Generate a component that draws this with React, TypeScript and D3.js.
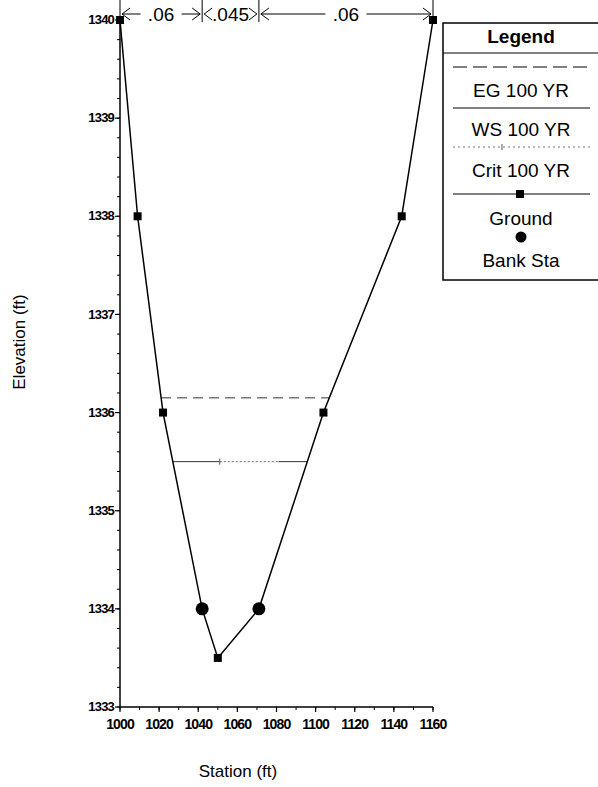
import React from "react";
import * as d3 from "d3";

const groundStation = [1000, 1009, 1022, 1042, 1050, 1071, 1104, 1144, 1160];
const groundElev = [1340, 1338, 1336, 1334, 1333.5, 1334, 1336, 1338, 1340];
const bankStation = [1042, 1071];
const bankElev = [1334, 1334];
const egElev = 1336.15;
const egRange = [1021, 1107];
const wsElev = 1335.5;
const wsRange = [1027, 1096];
const critElev = 1335.5;
const critRange = [1051, 1081];
const nBreaks = [1000, 1042, 1071, 1160];
const nLabels = [".06", ".045", ".06"];
const xTicks = [1000, 1020, 1040, 1060, 1080, 1100, 1120, 1140, 1160];
const yTicks = [1333, 1334, 1335, 1336, 1337, 1338, 1339, 1340];
const legendItems = ["EG 100 YR", "WS 100 YR", "Crit 100 YR", "Ground", "Bank Sta"];

export default function App() {
  const W = 598, H = 787;
  const x = d3.scaleLinear().domain([1000, 1160]).range([120, 433]);
  const y = d3.scaleLinear().domain([1333, 1340]).range([707, 20]);
  const line = d3.line<[number, number]>().x(d => x(d[0])).y(d => y(d[1]));
  const ground: [number, number][] = groundStation.map((s, i) => [s, groundElev[i]]);
  const minorX = d3.range(1000, 1161, 10);
  const minorY = d3.range(1333, 1340.01, 0.2);
  const font = "'Liberation Sans', Arial, sans-serif";
  const annY = 14;
  const lgX = 443, lgCx = 521;
  const lf = 19;
  return (
    <svg width={W} height={H} style={{ position: "absolute", left: 0, top: 0, background: "#fff" }} fontFamily={font}>
      <rect x={0} y={0} width={W} height={H} fill="#fff" />
      {/* axes */}
      <line x1={x(1000)} x2={x(1000)} y1={y(1340)} y2={y(1333)} stroke="#000" strokeWidth={1.5} />
      <line x1={x(1000)} x2={x(1160)} y1={y(1333)} y2={y(1333)} stroke="#000" strokeWidth={1.5} />
      {minorY.map((v, i) => (
        <line key={"my" + i} x1={x(1000) - 3} x2={x(1000)} y1={y(v)} y2={y(v)} stroke="#000" strokeWidth={1} />
      ))}
      {yTicks.map(v => (
        <g key={"yt" + v}>
          <line x1={x(1000) - 5} x2={x(1000)} y1={y(v)} y2={y(v)} stroke="#000" strokeWidth={1.2} />
          <text x={x(1000) - 6} y={y(v)} dy="0.32em" textAnchor="end" fontSize={13} fontWeight="bold" letterSpacing={-0.8}>{v}</text>
        </g>
      ))}
      {minorX.map((v, i) => (
        <line key={"mx" + i} x1={x(v)} x2={x(v)} y1={y(1333)} y2={y(1333) + 3} stroke="#000" strokeWidth={1} />
      ))}
      {xTicks.map(v => (
        <g key={"xt" + v}>
          <line x1={x(v)} x2={x(v)} y1={y(1333)} y2={y(1333) + 5} stroke="#000" strokeWidth={1.2} />
          <text x={x(v)} y={y(1333) + 22} textAnchor="middle" fontSize={14} fontWeight="bold" letterSpacing={-0.9}>{v}</text>
        </g>
      ))}
      <text x={238} y={777} textAnchor="middle" fontSize={17}>Station (ft)</text>
      <text transform={`translate(25,342) rotate(-90)`} textAnchor="middle" fontSize={17}>Elevation (ft)</text>

      {/* n-value annotation */}
      {nBreaks.map((b, i) => (
        <line key={"nb" + i} x1={x(b)} x2={x(b)} y1={0} y2={annY + 8} stroke="#000" strokeWidth={1} />
      ))}
      {nLabels.map((lab, i) => {
        const a = x(nBreaks[i]), b = x(nBreaks[i + 1]);
        const c = (a + b) / 2;
        const hw = lab.length * 5.5 + 4;
        return (
          <g key={"nl" + i}>
            <line x1={a + 2} x2={c - hw} y1={annY} y2={annY} stroke="#000" strokeWidth={1} />
            <line x1={c + hw} x2={b - 2} y1={annY} y2={annY} stroke="#000" strokeWidth={1} />
            <path d={`M${a + 10},${annY - 6} L${a + 2},${annY} L${a + 10},${annY + 6}`} fill="none" stroke="#000" strokeWidth={1} />
            <path d={`M${b - 10},${annY - 6} L${b - 2},${annY} L${b - 10},${annY + 6}`} fill="none" stroke="#000" strokeWidth={1} />
            <text x={c} y={annY} dy="0.35em" textAnchor="middle" fontSize={19}>{lab}</text>
          </g>
        );
      })}

      {/* water surfaces */}
      <line x1={x(egRange[0])} x2={x(egRange[1])} y1={y(egElev)} y2={y(egElev)} stroke="#333" strokeWidth={1} strokeDasharray="10,6" />
      <line x1={x(wsRange[0])} x2={x(wsRange[1])} y1={y(wsElev)} y2={y(wsElev)} stroke="#333" strokeWidth={1} />
      <line x1={x(critRange[0])} x2={x(critRange[1])} y1={y(critElev)} y2={y(critElev)} stroke="#fff" strokeWidth={2} />
      <line x1={x(critRange[0])} x2={x(critRange[1])} y1={y(critElev)} y2={y(critElev)} stroke="#777" strokeWidth={1} strokeDasharray="2,2" />
      <line x1={x(critRange[0])} x2={x(critRange[0])} y1={y(critElev) - 3} y2={y(critElev) + 3} stroke="#555" strokeWidth={1} />

      {/* ground */}
      <path d={line(ground) || ""} fill="none" stroke="#000" strokeWidth={1.5} />
      {ground.map((p, i) => (
        <rect key={"g" + i} x={x(p[0]) - 4} y={y(p[1]) - 4} width={8} height={8} fill="#000" />
      ))}
      {bankStation.map((s, i) => (
        <circle key={"b" + i} cx={x(s)} cy={y(bankElev[i])} r={6.5} fill="#000" />
      ))}

      {/* legend */}
      <rect x={lgX} y={23} width={200} height={257} fill="#fff" stroke="#000" strokeWidth={1.5} />
      <text x={lgCx} y={36} dy="0.35em" textAnchor="middle" fontSize={lf} fontWeight="bold">Legend</text>
      <line x1={lgX} x2={W} y1={53} y2={53} stroke="#000" strokeWidth={1} />
      <line x1={453} x2={590} y1={67} y2={67} stroke="#000" strokeWidth={1} strokeDasharray="14,6" />
      <text x={lgCx} y={90} dy="0.35em" textAnchor="middle" fontSize={lf}>{legendItems[0]}</text>
      <line x1={453} x2={590} y1={108} y2={108} stroke="#000" strokeWidth={1} />
      <text x={lgCx} y={129} dy="0.35em" textAnchor="middle" fontSize={lf}>{legendItems[1]}</text>
      <line x1={453} x2={590} y1={147} y2={147} stroke="#777" strokeWidth={1} strokeDasharray="2,3" />
      <line x1={502} x2={502} y1={144} y2={150} stroke="#555" strokeWidth={1} />
      <text x={lgCx} y={170} dy="0.35em" textAnchor="middle" fontSize={lf}>{legendItems[2]}</text>
      <line x1={453} x2={590} y1={194} y2={194} stroke="#000" strokeWidth={1} />
      <rect x={516} y={190} width={8} height={8} fill="#000" />
      <text x={lgCx} y={218} dy="0.35em" textAnchor="middle" fontSize={lf}>{legendItems[3]}</text>
      <circle cx={521} cy={237} r={5.5} fill="#000" />
      <text x={lgCx} y={260} dy="0.35em" textAnchor="middle" fontSize={lf}>{legendItems[4]}</text>
    </svg>
  );
}
